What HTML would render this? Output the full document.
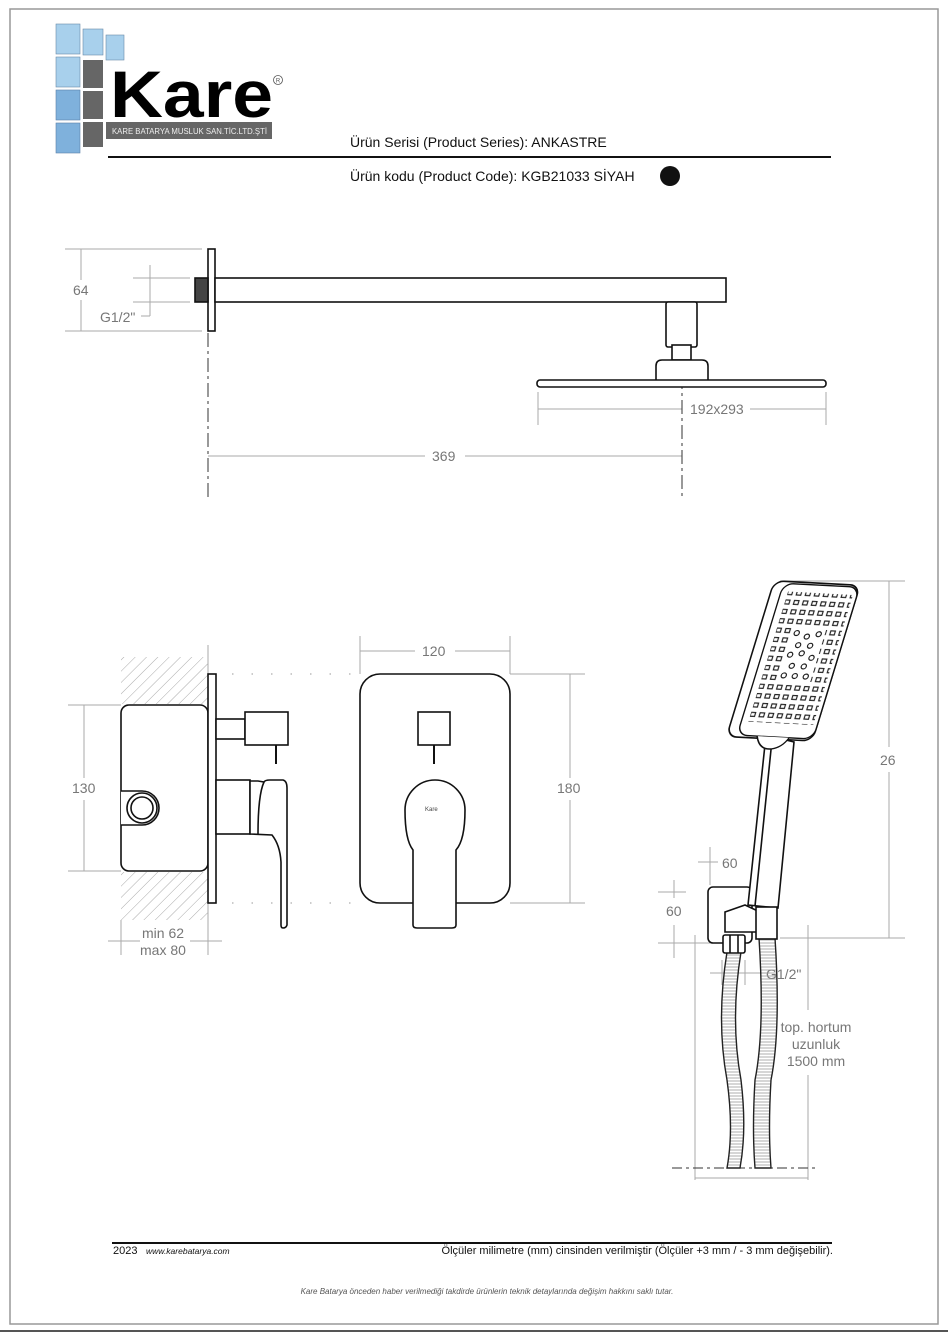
<!DOCTYPE html>
<html><head><meta charset="utf-8"><style>
html,body{margin:0;padding:0;background:#fff;}
svg{display:block;font-family:"Liberation Sans",Arial,sans-serif;}
.g{fill:#777;font-size:14px;}
</style></head><body>
<svg width="948" height="1333" viewBox="0 0 948 1333" xmlns="http://www.w3.org/2000/svg">
<defs>
<pattern id="hatch" width="8" height="8" patternUnits="userSpaceOnUse" patternTransform="rotate(45)">
<line x1="0" y1="0" x2="0" y2="8" stroke="#aaa" stroke-width="1"/>
</pattern>
<pattern id="noz" width="9" height="9.5" patternUnits="userSpaceOnUse">
<rect x="2" y="2" width="4.5" height="4" fill="none" stroke="#222" stroke-width="1.2"/>
</pattern>
<pattern id="hose" width="6" height="3" patternUnits="userSpaceOnUse">
<line x1="0" y1="1" x2="6" y2="1" stroke="#999" stroke-width="0.8"/>
</pattern>
</defs>
<rect x="0" y="0" width="948" height="1333" fill="#fff"/>
<rect x="10" y="9" width="928" height="1315" fill="none" stroke="#999" stroke-width="1.5"/>
<line x1="0" y1="1331" x2="948" y2="1331" stroke="#555" stroke-width="2"/>

<!-- Logo -->
<g>
<rect x="56" y="24" width="24" height="30" fill="#a8d0ec" stroke="#6a8aa8" stroke-width="0.6"/>
<rect x="83" y="29" width="20" height="26" fill="#a8d0ec" stroke="#6a8aa8" stroke-width="0.6"/>
<rect x="106" y="35" width="18" height="25" fill="#a8d0ec" stroke="#6a8aa8" stroke-width="0.6"/>
<rect x="56" y="57" width="24" height="30" fill="#a8d0ec" stroke="#6a8aa8" stroke-width="0.6"/>
<rect x="83" y="60" width="20" height="28" fill="#666"/>
<rect x="56" y="90" width="24" height="30" fill="#7fb1dc" stroke="#5a80a8" stroke-width="0.6"/>
<rect x="83" y="91" width="20" height="28" fill="#666"/>
<rect x="56" y="123" width="24" height="30" fill="#7fb1dc" stroke="#5a80a8" stroke-width="0.6"/>
<rect x="83" y="122" width="20" height="25" fill="#666"/>
<rect x="106" y="122" width="166" height="17" fill="#666"/>
<text x="112" y="134" font-size="8" fill="#eee" textLength="155" lengthAdjust="spacingAndGlyphs">KARE BATARYA MUSLUK SAN.TİC.LTD.ŞTİ</text>
<text x="110" y="117" font-size="66" font-weight="bold" fill="#000" textLength="163" lengthAdjust="spacingAndGlyphs">Kare</text>
<circle cx="278" cy="80" r="4.5" fill="none" stroke="#555" stroke-width="0.8"/>
<text x="278" y="82.5" font-size="6" fill="#555" text-anchor="middle">R</text>
</g>

<!-- Header -->
<text x="350" y="147" font-size="14" fill="#111">Ürün Serisi (Product Series): ANKASTRE</text>
<line x1="108" y1="157" x2="831" y2="157" stroke="#111" stroke-width="2"/>
<text x="350" y="181" font-size="14" fill="#111">Ürün kodu (Product Code): KGB21033  SİYAH</text>
<circle cx="670" cy="176" r="10" fill="#111"/>

<!-- Top drawing: shower arm -->
<g stroke="#aaa" stroke-width="1" fill="none">
<line x1="65" y1="249" x2="202" y2="249"/>
<line x1="65" y1="331" x2="202" y2="331"/>
<line x1="81" y1="249" x2="81" y2="280"/>
<line x1="81" y1="300" x2="81" y2="331"/>
<line x1="133" y1="278" x2="190" y2="278"/>
<line x1="133" y1="302" x2="190" y2="302"/>
<line x1="150" y1="265" x2="150" y2="316"/>
<line x1="150" y1="316" x2="141" y2="316"/>
<line x1="538" y1="392" x2="538" y2="425"/>
<line x1="826" y1="392" x2="826" y2="425"/>
<line x1="538" y1="409" x2="682" y2="409"/>
<line x1="750" y1="409" x2="826" y2="409"/>
<line x1="208" y1="456" x2="425" y2="456"/>
<line x1="465" y1="456" x2="682" y2="456"/>
</g>
<g stroke="#333" stroke-width="1" fill="none" stroke-dasharray="14 4 3 4">
<line x1="208" y1="333" x2="208" y2="500"/>
<line x1="682" y1="300" x2="682" y2="500"/>
</g>
<text x="73" y="295" class="g">64</text>
<text x="100" y="322" class="g">G1/2"</text>
<text x="690" y="414" class="g">192x293</text>
<text x="432" y="461" class="g">369</text>
<g stroke="#111" stroke-width="1.6" fill="#fff">
<rect x="208" y="249" width="7" height="82"/>
<rect x="195" y="278" width="13" height="24" fill="#444"/>
<rect x="215" y="278" width="511" height="24"/>
<rect x="666" y="302" width="31" height="45" rx="2"/>
<rect x="672" y="345" width="19" height="15"/>
<path d="M656,380 L656,366 Q656,360 662,360 L702,360 Q708,360 708,366 L708,380"/>
<rect x="537" y="380" width="289" height="7" rx="3"/>
</g>

<!-- Mixer side view -->
<rect x="121" y="657" width="87" height="47" fill="url(#hatch)"/>
<rect x="121" y="872" width="87" height="48" fill="url(#hatch)"/>
<line x1="208" y1="645" x2="208" y2="925" stroke="#aaa"/>
<g stroke="#aaa" fill="none">
<line x1="68" y1="705" x2="121" y2="705"/>
<line x1="68" y1="871" x2="121" y2="871"/>
<line x1="84" y1="705" x2="84" y2="778"/>
<line x1="84" y1="800" x2="84" y2="871"/>
<line x1="121" y1="920" x2="121" y2="955"/>
<line x1="208" y1="920" x2="208" y2="955"/>
<line x1="108" y1="941" x2="140" y2="941"/>
<line x1="190" y1="941" x2="222" y2="941"/>
<line x1="360" y1="636" x2="360" y2="674"/>
<line x1="510" y1="636" x2="510" y2="674"/>
<line x1="360" y1="651" x2="415" y2="651"/>
<line x1="455" y1="651" x2="510" y2="651"/>
<line x1="510" y1="674" x2="585" y2="674"/>
<line x1="510" y1="903" x2="585" y2="903"/>
<line x1="570" y1="674" x2="570" y2="778"/>
<line x1="570" y1="800" x2="570" y2="903"/>
</g>
<g stroke="#bbb" stroke-width="1.5" stroke-dasharray="1.5 18">
<line x1="232" y1="674" x2="355" y2="674"/>
<line x1="232" y1="903" x2="355" y2="903"/>
</g>
<text x="72" y="793" class="g">130</text>
<text x="142" y="938" class="g">min 62</text>
<text x="140" y="955" class="g">max 80</text>
<text x="422" y="656" class="g">120</text>
<text x="557" y="793" class="g">180</text>
<g stroke="#111" stroke-width="1.6" fill="#fff">
<rect x="121" y="705" width="87" height="166" rx="8"/>
<path d="M121,791 L142,791 A17,17 0 0 1 142,825 L121,825"/>
<circle cx="142" cy="808" r="15"/>
<circle cx="142" cy="808" r="11"/>
<rect x="208" y="674" width="8" height="229"/>
<rect x="216" y="719" width="29" height="20"/>
<rect x="245" y="712" width="43" height="33"/>
<line x1="276" y1="745" x2="276" y2="764" stroke-width="2"/>
<rect x="216" y="780" width="34" height="54"/>
<path d="M250,781 L258,781 L264,782 Q265,780 270,780 L283,780 Q287,781 287,788 L287,925 Q286,928 283,928 Q281,928 281,925 L281,862 Q280,845 272,835 L250,834 Z"/>
<path d="M264,782 Q258,795 258,834"/>
<!-- front -->
<rect x="360" y="674" width="150" height="229" rx="20"/>
<rect x="418" y="712" width="32" height="33"/>
<line x1="434" y1="745" x2="434" y2="764" stroke-width="2"/>
<path d="M413,925 L413,850 Q405,840 405,810 A30,30 0 0 1 465,810 Q465,840 456,850 L456,925 Q456,928 452,928 L417,928 Q413,928 413,925 Z"/>
</g>
<text x="425" y="811" font-size="6" fill="#444">Kare</text>

<!-- Hand shower dims -->
<g stroke="#aaa" fill="none">
<line x1="780" y1="581" x2="905" y2="581"/>
<line x1="780" y1="938" x2="905" y2="938"/>
<line x1="889" y1="581" x2="889" y2="747"/>
<line x1="889" y1="772" x2="889" y2="938"/>
<line x1="710" y1="847" x2="710" y2="885"/>
<line x1="698" y1="862" x2="718" y2="862"/>
<line x1="752" y1="862" x2="765" y2="862"/>
<line x1="658" y1="892" x2="686" y2="892"/>
<line x1="658" y1="943" x2="720" y2="943"/>
<line x1="674" y1="880" x2="674" y2="898"/>
<line x1="674" y1="925" x2="674" y2="958"/>
<line x1="695" y1="935" x2="695" y2="1180"/>
<line x1="808" y1="925" x2="808" y2="1010"/>
<line x1="808" y1="1075" x2="808" y2="1180"/>
<line x1="695" y1="1178" x2="808" y2="1178"/>
<line x1="710" y1="973" x2="770" y2="973"/>
<line x1="722" y1="960" x2="722" y2="985"/>
<line x1="745" y1="960" x2="745" y2="985"/>
</g>
<line x1="672" y1="1168" x2="818" y2="1168" stroke="#333" stroke-dasharray="10 4 3 4"/>
<text x="880" y="765" class="g">26</text>
<text x="722" y="868" class="g">60</text>
<text x="666" y="916" class="g">60</text>
<text x="766" y="979" class="g">G1/2"</text>
<text x="816" y="1032" class="g" text-anchor="middle">top. hortum</text>
<text x="816" y="1049" class="g" text-anchor="middle">uzunluk</text>
<text x="816" y="1066" class="g" text-anchor="middle">1500 mm</text>

<!-- Hoses -->
<g fill="url(#hose)" stroke="#222" stroke-width="1.4">
<path d="M727,952 Q716,1020 727,1080 Q734,1130 727,1168 L740,1168 Q747,1130 741,1080 Q730,1020 741,952 Z"/>
<path d="M759,938 Q765,1030 755,1080 Q752,1130 755,1168 L771,1168 Q768,1130 771,1080 Q781,1030 775,938 Z"/>
</g>
<!-- bracket & handle -->
<g stroke="#111" stroke-width="1.6" fill="#fff">
<rect x="708" y="887" width="44" height="56" rx="5"/>
<path d="M766,735 L794,742 L778,908 L748,905 Z"/>
<line x1="772" y1="740" x2="755" y2="906"/>
<path d="M725,912 L745,905 L760,912 L760,932 L725,932 Z"/>
<rect x="756" y="907" width="21" height="32"/>
<rect x="723" y="935" width="22" height="18" rx="2"/>
<line x1="730" y1="935" x2="730" y2="953"/>
<line x1="738" y1="935" x2="738" y2="953"/>
</g>
<g transform="translate(795 662) rotate(3) skewX(-14) translate(-795 -662)">
<rect x="750" y="582" width="86" height="158" rx="10" fill="#fff" stroke="#111" stroke-width="1.6"/>
<rect x="760" y="584" width="76" height="154" rx="10" fill="#fff" stroke="#111" stroke-width="1.4"/>
<path d="M780,738 Q786,752 798,750 Q808,748 812,738" fill="#fff" stroke="#111" stroke-width="1.4"/>
<rect x="767" y="592" width="65" height="132" fill="url(#noz)"/>
<rect x="782" y="628" width="34" height="54" fill="#fff"/>
<g fill="none" stroke="#222" stroke-width="1.2">
<circle cx="788" cy="633" r="2.5"/><circle cx="799" cy="636" r="2.5"/><circle cx="810" cy="633" r="2.5"/>
<circle cx="793" cy="645" r="2.5"/><circle cx="805" cy="645" r="2.5"/>
<circle cx="788" cy="655" r="2.5"/><circle cx="799" cy="653" r="2.5"/><circle cx="810" cy="657" r="2.5"/>
<circle cx="793" cy="666" r="2.5"/><circle cx="805" cy="666" r="2.5"/>
<circle cx="788" cy="676" r="2.5"/><circle cx="799" cy="676" r="2.5"/><circle cx="810" cy="676" r="2.5"/>
</g>
</g>

<!-- Footer -->
<line x1="112" y1="1243" x2="832" y2="1243" stroke="#111" stroke-width="2"/>
<text x="113" y="1254" font-size="11" fill="#111">2023</text>
<text x="146" y="1254" font-size="8.5" font-style="italic" fill="#111">www.karebatarya.com</text>
<text x="833" y="1254" font-size="11" fill="#111" text-anchor="end">Ölçüler milimetre (mm) cinsinden verilmiştir (Ölçüler  +3 mm / - 3 mm değişebilir).</text>
<text x="487" y="1294" font-size="8" font-style="italic" fill="#555" text-anchor="middle">Kare Batarya önceden haber verilmediği takdirde ürünlerin teknik detaylarında değişim hakkını saklı tutar.</text>
</svg>
</body></html>
